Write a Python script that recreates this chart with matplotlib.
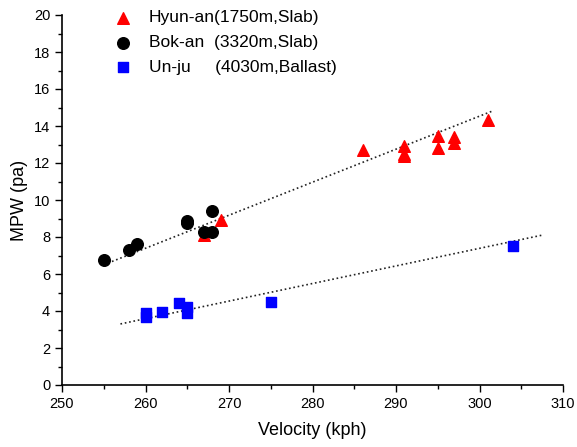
import matplotlib
matplotlib.use("Agg")
import matplotlib.pyplot as plt
import numpy as np
from matplotlib.ticker import MultipleLocator

plt.rcParams["font.family"] = ["Liberation Sans", "DejaVu Sans"]

# Hyun-an (1750m, Slab)
hyun_v = [267, 269, 286, 291, 291, 291, 295, 295, 297, 297, 301]
hyun_p = [8.1, 8.9, 12.7, 12.9, 12.5, 12.4, 13.45, 12.8, 13.4, 13.1, 14.35]
# Bok-an (3320m, Slab)
bok_v = [255, 258, 259, 265, 265, 267, 268, 268]
bok_p = [6.75, 7.3, 7.6, 8.85, 8.75, 8.25, 9.4, 8.25]
# Un-ju (4030m, Ballast)
unju_v = [260, 260, 262, 264, 265, 265, 275, 304]
unju_p = [3.9, 3.7, 3.95, 4.45, 4.2, 3.9, 4.5, 7.5]

# trend lines (end points)
slab_fit_v = [255, 301.5]
slab_fit_p = [6.5, 14.8]
ballast_fit_v = [257, 307.5]
ballast_fit_p = [3.3, 8.1]

labels = ["Hyun-an(1750m,Slab)", "Bok-an  (3320m,Slab)", "Un-ju     (4030m,Ballast)"]

fig = plt.figure(figsize=(5.77, 4.47), dpi=100)
ax = fig.add_axes([62/577, 1 - 385/447, (563-62)/577, (385-15)/447])

ax.plot(slab_fit_v, slab_fit_p, ":", color="#222222", lw=1.2)
ax.plot(ballast_fit_v, ballast_fit_p, ":", color="#222222", lw=1.2)

ax.scatter(hyun_v, hyun_p, marker="^", s=70, color="red", label=labels[0], zorder=3)
ax.scatter(bok_v, bok_p, marker="o", s=70, color="black", label=labels[1], zorder=3)
ax.scatter(unju_v, unju_p, marker="s", s=45, color="blue", label=labels[2], zorder=3)

ax.set_xlim(250, 310)
ax.set_ylim(0, 20)
ax.xaxis.set_major_locator(MultipleLocator(10))
ax.xaxis.set_minor_locator(MultipleLocator(5))
ax.yaxis.set_major_locator(MultipleLocator(2))
ax.yaxis.set_minor_locator(MultipleLocator(1))
ax.tick_params(which="major", direction="out", length=5, width=1, labelsize=10.5)
ax.tick_params(which="minor", direction="out", length=3, width=1)
ax.spines["top"].set_visible(False)
ax.spines["right"].set_visible(False)
ax.spines["left"].set_linewidth(1.2)
ax.spines["bottom"].set_linewidth(1.2)

ax.set_xlabel("Velocity (kph)", fontsize=13, labelpad=8)
ax.set_ylabel("MPW (pa)", fontsize=13)

ax.legend(loc="upper left", bbox_to_anchor=(0.055, 1.055), frameon=False,
          fontsize=12.5, handletextpad=0.5, labelspacing=0.55, scatterpoints=1)

fig.savefig("out.png", dpi=100)
